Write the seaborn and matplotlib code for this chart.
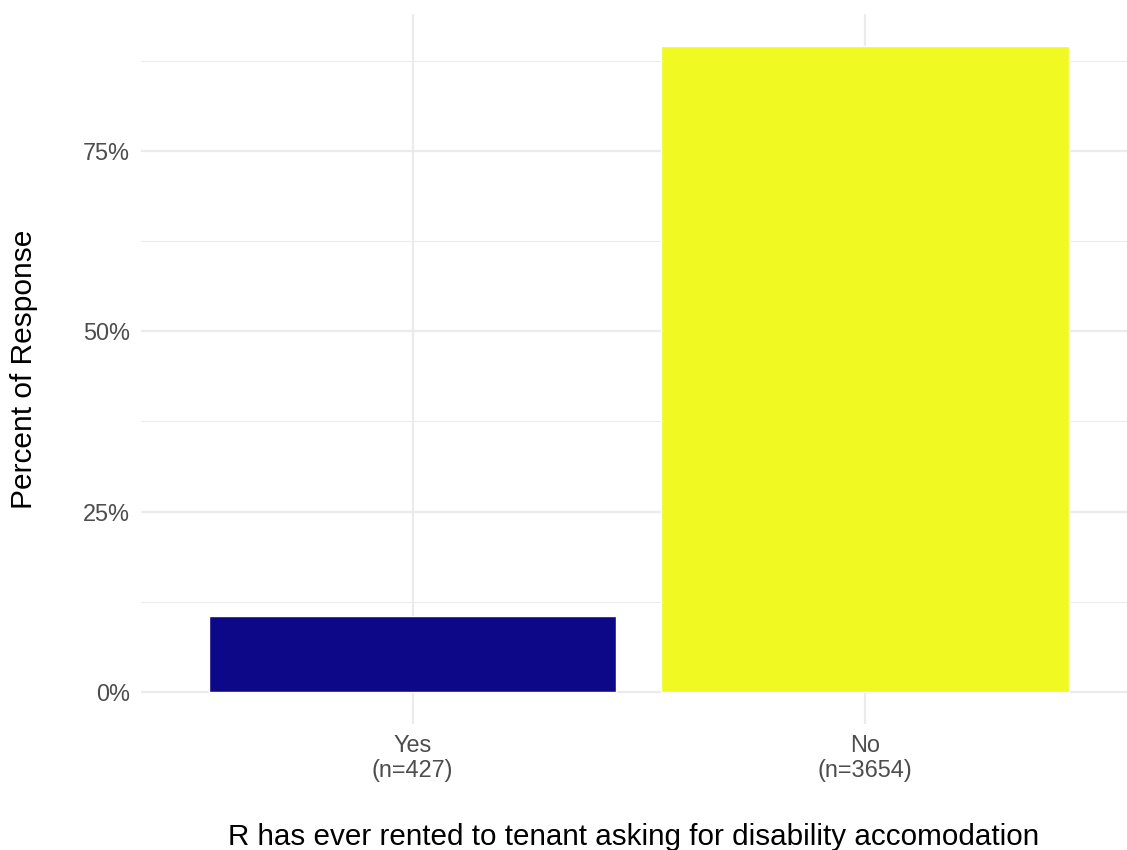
import matplotlib
matplotlib.use("Agg")
import matplotlib.pyplot as plt
import seaborn as sns
import pandas as pd
from matplotlib.ticker import FixedLocator

categories = ["Yes\n(n=427)", "No\n(n=3654)"]
percent = [10.46, 89.54]
colors = ["#0D0887", "#F0F921"]
y_ticks = [0, 25, 50, 75]
y_tick_labels = ["0%", "25%", "50%", "75%"]
y_minor = [12.5, 37.5, 62.5, 87.5]

df = pd.DataFrame({"cat": categories, "pct": percent})

sns.set_theme(style="white")
plt.rcParams["font.family"] = ["Liberation Sans", "DejaVu Sans"]

W, H = 1127, 850
fig = plt.figure(figsize=(W / 100, H / 100), dpi=100)
left, right, top, bottom = 141, 1127, 14, 724
ax = fig.add_axes([left / W, 1 - bottom / H, (right - left) / W, (bottom - top) / H])

sns.barplot(data=df, x="cat", y="pct", hue="cat", palette=colors, width=0.9,
            ax=ax, legend=False, saturation=1, zorder=3)

ymax = max(percent)
ax.set_ylim(-0.05 * ymax, 1.05 * ymax)
xr = 1.6 - (1136.5 - 1127) / 452.5
ax.set_xlim(-0.6, xr)

ax.yaxis.set_major_locator(FixedLocator(y_ticks))
ax.set_yticklabels(y_tick_labels)
ax.yaxis.set_minor_locator(FixedLocator(y_minor))
ax.grid(which="major", axis="both", color="#EBEBEB", linewidth=1.6, zorder=0)
ax.grid(which="minor", axis="y", color="#EBEBEB", linewidth=0.8, zorder=0)
ax.set_axisbelow(True)
for s in ax.spines.values():
    s.set_visible(False)

ax.tick_params(axis="both", which="both", length=0, labelsize=16.9, colors="#4D4D4D")
ax.tick_params(axis="y", pad=8)
ax.tick_params(axis="x", pad=7)
for lbl in ax.get_xticklabels():
    lbl.set_linespacing(1.1)

ax.set_xlabel("R has ever rented to tenant asking for disability accomodation",
              fontsize=21.3, color="black", labelpad=30)
ax.set_ylabel("Percent of Response", fontsize=21.5, color="black", labelpad=32)

fig.savefig("out.png", dpi=100, facecolor="white")
